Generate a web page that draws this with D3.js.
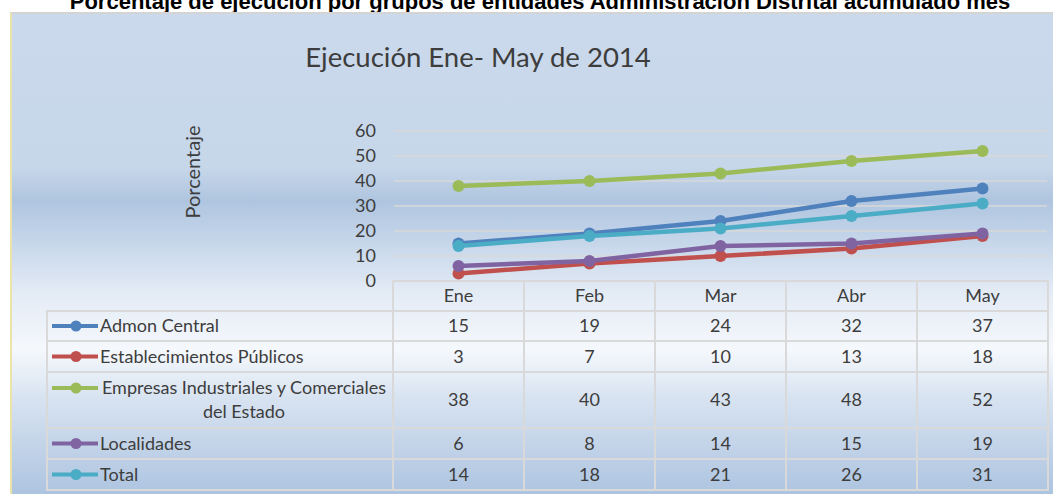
<!DOCTYPE html>
<html>
<head>
<meta charset="utf-8">
<script src="https://cdn.jsdelivr.net/npm/d3@7"></script>
<style>
  body { margin: 0; background: #fff; }
  svg text { font-family: Lato, "Open Sans", sans-serif; fill: #3d3d3d; }
</style>
</head>
<body>
<div id="chart"></div>
<script>
// data
var months = ["Ene", "Feb", "Mar", "Abr", "May"];
var seriesNames = ["Admon Central", "Establecimientos Públicos", "Empresas Industriales y Comerciales del Estado", "Localidades", "Total"];
var admonCentral = [15, 19, 24, 32, 37];
var establecimientos = [3, 7, 10, 13, 18];
var empresas = [38, 40, 43, 48, 52];
var localidades = [6, 8, 14, 15, 19];
var total = [14, 18, 21, 26, 31];
var yTicks = [0, 10, 20, 30, 40, 50, 60];

var colors = ["#4f81bd", "#c0504d", "#9bbb59", "#8064a2", "#4bacc6"];
var allValues = [admonCentral, establecimientos, empresas, localidades, total];

var series = seriesNames.map(function(n, i) {
  return {name: n, values: allValues[i], color: colors[i]};
});

var width = 1053, height = 494;

var svg = d3.select("#chart").append("svg")
  .attr("width", width)
  .attr("height", height);

// background gradient like the excel preset
var defs = svg.append("defs");
var grad = defs.append("linearGradient")
  .attr("id", "bg")
  .attr("x1", 0).attr("y1", 0).attr("x2", 0).attr("y2", 1);
[[0, "#cad9eb"], [0.32, "#c7d7ea"], [0.39, "#afc5df"], [0.44, "#bccfe6"], [0.58, "#e3ebf5"], [0.7, "#f5f8fc"], [0.8, "#d8e3f1"], [1, "#adc4e0"]]
  .forEach(function(s) {
    grad.append("stop").attr("offset", s[0]).attr("stop-color", s[1]);
  });

// page title, its top is cut off in the source document
svg.append("text")
  .attr("x", 540)
  .attr("y", 9)
  .attr("text-anchor", "middle")
  .style("font-family", "'Liberation Sans', Arial, sans-serif")
  .style("font-weight", "bold")
  .style("font-size", "22px")
  .style("fill", "#000")
  .text("Porcentaje de ejecución por grupos de entidades  Administración Distrital acumulado mes");

// chart area
svg.append("rect")
  .attr("x", 10).attr("y", 13)
  .attr("width", width - 10).attr("height", height - 13)
  .attr("fill", "url(#bg)");
svg.append("line")
  .attr("x1", 10).attr("x2", width).attr("y1", 13).attr("y2", 13)
  .attr("stroke", "#d4d4d4").attr("stroke-width", 2);
svg.append("line")
  .attr("x1", 11).attr("x2", 11).attr("y1", 13).attr("y2", height)
  .attr("stroke", "#ece3a6").attr("stroke-width", 2);

svg.append("text")
  .attr("x", 478)
  .attr("y", 67)
  .attr("text-anchor", "middle")
  .style("font-size", "27.5px")
  .text("Ejecución Ene- May de 2014");

svg.append("text")
  .attr("transform", "translate(200,172) rotate(-90)")
  .attr("text-anchor", "middle")
  .style("font-size", "20px")
  .text("Porcentaje");

var x = d3.scaleBand().domain(months).range([393, 1048]);
var y = d3.scaleLinear().domain([0, 60]).range([281, 131]);

// gridlines
svg.append("g")
  .selectAll("line")
  .data(yTicks.filter(function(d) { return d > 0; }))
  .join("line")
    .attr("x1", 394).attr("x2", 1047)
    .attr("y1", function(d) { return y(d); })
    .attr("y2", function(d) { return y(d); })
    .attr("stroke", "#d9d9d9")
    .attr("stroke-width", 1.5);

// y axis labels
var yAxis = svg.append("g")
  .attr("transform", "translate(382,0)")
  .call(d3.axisLeft(y).tickValues(yTicks).tickSize(0).tickPadding(6));
yAxis.select(".domain").remove();
yAxis.selectAll("text")
  .style("font-family", "Lato, sans-serif")
  .style("font-size", "18px")
  .style("fill", "#3d3d3d");

var line = d3.line()
  .x(function(d, i) { return x(months[i]) + x.bandwidth() / 2; })
  .y(function(d) { return y(d); });

var lines = svg.append("g").selectAll("g")
  .data(series)
  .join("g");
lines.append("path")
  .attr("d", function(d) { return line(d.values); })
  .attr("fill", "none")
  .attr("stroke", function(d) { return d.color; })
  .attr("stroke-width", 4.5)
  .attr("stroke-linejoin", "round");
lines.selectAll("circle")
  .data(function(d) { return d.values.map(function(v) { return {v: v, color: d.color}; }); })
  .join("circle")
    .attr("cx", function(d, i) { return x(months[i]) + x.bandwidth() / 2; })
    .attr("cy", function(d) { return y(d.v); })
    .attr("r", 6)
    .attr("fill", function(d) { return d.color; });

// data table
var headerTop = 281, headerH = 30;
var rowH = [30, 31, 56, 31, 31];
var rowTop = [];
var acc = headerTop + headerH;
rowH.forEach(function(h) { rowTop.push(acc); acc += h; });
var tableLeft = 47;
var border = "#d9d9d9";

var table = svg.append("g");

// header cells
table.selectAll("rect.head")
  .data(months)
  .join("rect")
    .attr("class", "head")
    .attr("x", function(d) { return x(d); })
    .attr("y", headerTop)
    .attr("width", x.bandwidth())
    .attr("height", headerH)
    .attr("fill", "none")
    .attr("stroke", border)
    .attr("stroke-width", 2);
table.selectAll("text.head")
  .data(months)
  .join("text")
    .attr("class", "head")
    .attr("x", function(d) { return x(d) + x.bandwidth() / 2; })
    .attr("y", headerTop + headerH / 2)
    .attr("dy", "0.35em")
    .attr("text-anchor", "middle")
    .style("font-size", "18px")
    .text(function(d) { return d; });

var rows = table.selectAll("g.row")
  .data(series)
  .join("g")
    .attr("class", "row")
    .attr("transform", function(d, i) { return "translate(0," + rowTop[i] + ")"; });

rows.append("rect")
  .attr("x", tableLeft)
  .attr("width", x.range()[0] - tableLeft)
  .attr("height", function(d, i) { return rowH[i]; })
  .attr("fill", "none")
  .attr("stroke", border)
  .attr("stroke-width", 2);

rows.each(function(d, i) {
  var g = d3.select(this);
  var h = rowH[i];
  var wrapped = d.name.length > 30;
  var iconY = wrapped ? 16 : h / 2;

  g.selectAll("rect.cell")
    .data(months)
    .join("rect")
      .attr("class", "cell")
      .attr("x", function(m) { return x(m); })
      .attr("width", x.bandwidth())
      .attr("height", h)
      .attr("fill", "none")
      .attr("stroke", border)
      .attr("stroke-width", 2);

  g.selectAll("text.cell")
    .data(d.values)
    .join("text")
      .attr("class", "cell")
      .attr("x", function(v, j) { return x(months[j]) + x.bandwidth() / 2; })
      .attr("y", h / 2)
      .attr("dy", "0.35em")
      .attr("text-anchor", "middle")
      .style("font-size", "18px")
      .text(function(v) { return v; });

  g.append("line")
    .attr("x1", 52).attr("x2", 98)
    .attr("y1", iconY).attr("y2", iconY)
    .attr("stroke", d.color)
    .attr("stroke-width", 4);
  g.append("circle")
    .attr("cx", 76).attr("cy", iconY).attr("r", 5.5)
    .attr("fill", d.color);

  if (wrapped) {
    var t = g.append("text")
      .attr("text-anchor", "middle")
      .style("font-size", "18px");
    t.append("tspan").attr("x", 244).attr("y", iconY).attr("dy", "0.35em")
      .text("Empresas Industriales y Comerciales");
    t.append("tspan").attr("x", 244).attr("y", iconY + 24).attr("dy", "0.35em")
      .text("del Estado");
  } else {
    g.append("text")
      .attr("x", 100)
      .attr("y", h / 2)
      .attr("dy", "0.35em")
      .style("font-size", "18px")
      .text(d.name);
  }
});
</script>
</body>
</html>
